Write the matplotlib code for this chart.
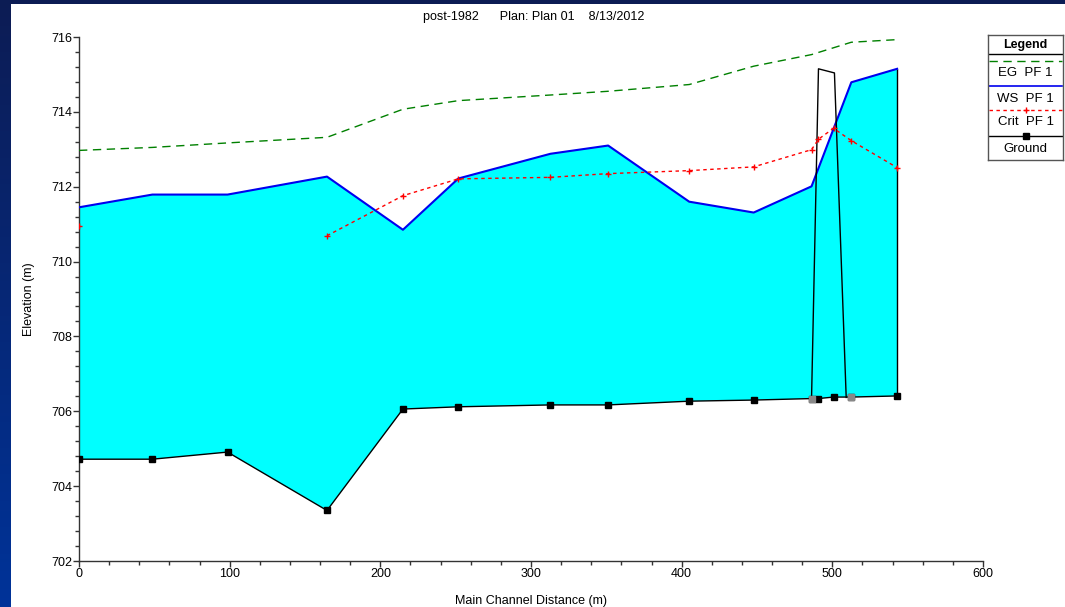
import numpy as np
import matplotlib
matplotlib.use('Agg')
import matplotlib.pyplot as plt
from matplotlib.patches import Rectangle
from matplotlib.ticker import MultipleLocator

plt.rcParams['font.family'] = ['Liberation Sans', 'DejaVu Sans']

# stations (m) and elevations (m)
ground_x = [0, 48.7, 98.6, 164.6, 215, 251.8, 312.9, 351.2, 405, 447.8, 486.2, 490.8, 500.8, 512.6, 543]
ground_y = [704.72, 704.72, 704.91, 703.35, 706.06, 706.12, 706.17, 706.17, 706.27, 706.3, 706.34, 706.34, 706.38, 706.38, 706.41]
ground_face = [486.2, 512.6]
ground_face_y = [706.34, 706.38]

ws_x = [0, 48.7, 98.6, 164.6, 215, 251.8, 312.9, 351.2, 405, 447.8, 486.2, 512.6, 543]
ws_y = [711.45, 711.79, 711.79, 712.27, 710.85, 712.22, 712.88, 713.1, 711.6, 711.31, 712.01, 714.79, 715.15]

eg_x = [0, 48.7, 98.6, 164.6, 215, 251.8, 312.9, 351.2, 405, 447.8, 486.2, 512.6, 543]
eg_y = [712.97, 713.05, 713.17, 713.32, 714.07, 714.3, 714.45, 714.55, 714.73, 715.22, 715.53, 715.86, 715.93]

crit_x = [0, 48.7, 98.6, 164.6, 215, 251.8, 312.9, 351.2, 405, 447.8, 486.2, 490.8, 500.8, 512.6, 543]
crit_y = [710.94, np.nan, np.nan, 710.69, 711.76, 712.21, 712.25, 712.35, 712.43, 712.53, 712.99, 713.27, 713.56, 713.23, 712.51]

bridge_x = [486.2, 490.8, 501.4, 509.2]
bridge_y = [706.34, 715.15, 715.04, 706.37]

W, H = 1065, 607
fig = plt.figure(figsize=(W / 100, H / 100), dpi=100)

# blue frame with gradient, white panel on top
top = np.array([0.05, 0.11, 0.33])
bot = np.array([0.0, 0.2, 0.6])
t = np.linspace(0, 1, H)[:, None, None]
grad = (1 - t) * bot + t * top
grad = np.repeat(grad, W, axis=1)
fig.figimage(grad, 0, 0, zorder=-3, origin='lower')
fig.patches.append(Rectangle((11 / W, 0), 1 - 11 / W, (H - 4) / H, transform=fig.transFigure,
                             facecolor='white', edgecolor='none', zorder=-2))

ax = fig.add_axes([79 / W, (H - 561) / H, 904 / W, 524 / H])
ax.set_facecolor('white')

poly_x = np.concatenate([ws_x, ground_x[::-1]])
poly_y = np.concatenate([ws_y, ground_y[::-1]])
ax.fill(poly_x, poly_y, color='#00ffff', lw=0, zorder=1)
ax.vlines(ws_x[-1], ground_y[-1], ws_y[-1], color='black', lw=1, zorder=3)

ax.plot(eg_x, eg_y, color='#008000', lw=1, ls=(0, (6, 4)), zorder=4)
ax.plot(ws_x, ws_y, color='#0000ee', lw=1.5, zorder=4)
ax.plot(crit_x, crit_y, color='red', lw=1, ls=(0, (2.5, 2.5)), marker='+', ms=5, mew=1, zorder=5)
ax.plot(bridge_x, bridge_y, color='black', lw=1, zorder=4)
ax.plot(ground_x, ground_y, color='black', lw=1, marker='s', ms=4.5, zorder=6)
ax.plot(ground_face, ground_face_y, ls='none', marker='s', ms=4.5, color='#888888', zorder=7)

ax.set_xlim(0, 600)
ax.set_ylim(702, 716)
ax.xaxis.set_major_locator(MultipleLocator(100))
ax.xaxis.set_minor_locator(MultipleLocator(20))
ax.yaxis.set_major_locator(MultipleLocator(2))
ax.yaxis.set_minor_locator(MultipleLocator(0.4))
for s in ['top', 'right']:
    ax.spines[s].set_visible(False)
for s in ['left', 'bottom']:
    ax.spines[s].set_color('#333333')
    ax.spines[s].set_linewidth(1)
ax.tick_params(which='major', direction='out', length=4, width=1, color='#333333', labelsize=9, pad=1)
ax.tick_params(which='minor', direction='out', length=3, width=1, color='#333333')
ax.set_xlabel('Main Channel Distance (m)', fontsize=9, va='center')
ax.set_ylabel('Elevation (m)', fontsize=9, va='center')
ax.xaxis.set_label_coords(0.5, -0.076)
ax.yaxis.set_label_coords(-0.055, 0.5)

fig.text(534 / W, 1 - 17 / H, 'post-1982      Plan: Plan 01    8/13/2012', fontsize=9,
         ha='center', va='center')

# legend box
lg = fig.add_axes([988 / W, (H - 160) / H, 75 / W, 125 / H])
lg.set_xlim(0, 75)
lg.set_ylim(160, 35)
lg.set_xticks([])
lg.set_yticks([])
for s in lg.spines.values():
    s.set_color('#555555')
    s.set_linewidth(1)
lg.text(37.5, 45, 'Legend', fontsize=9, fontweight='bold', ha='center', va='center')
lg.axhline(53.5, color='black', lw=1)
lg.plot([1, 74], [61, 61], color='#008000', lw=1, ls=(0, (6, 4)))
lg.text(37.5, 73.5, 'EG  PF 1', fontsize=9.5, ha='center', va='center')
lg.plot([1, 74], [86, 86], color='#0000ee', lw=1.2)
lg.text(37.5, 99, 'WS  PF 1', fontsize=9.5, ha='center', va='center')
lg.plot([1, 74], [110, 110], color='red', lw=1, ls=(0, (2.5, 2.5)))
lg.plot([37.5], [110], color='red', marker='+', ms=5, mew=1)
lg.text(37.5, 122, 'Crit  PF 1', fontsize=9.5, ha='center', va='center')
lg.plot([1, 74], [135.5, 135.5], color='black', lw=1)
lg.plot([37.5], [135.5], color='black', marker='s', ms=4.5)
lg.text(37.5, 148.5, 'Ground', fontsize=9.5, ha='center', va='center')

fig.savefig('out.png', dpi=100)
